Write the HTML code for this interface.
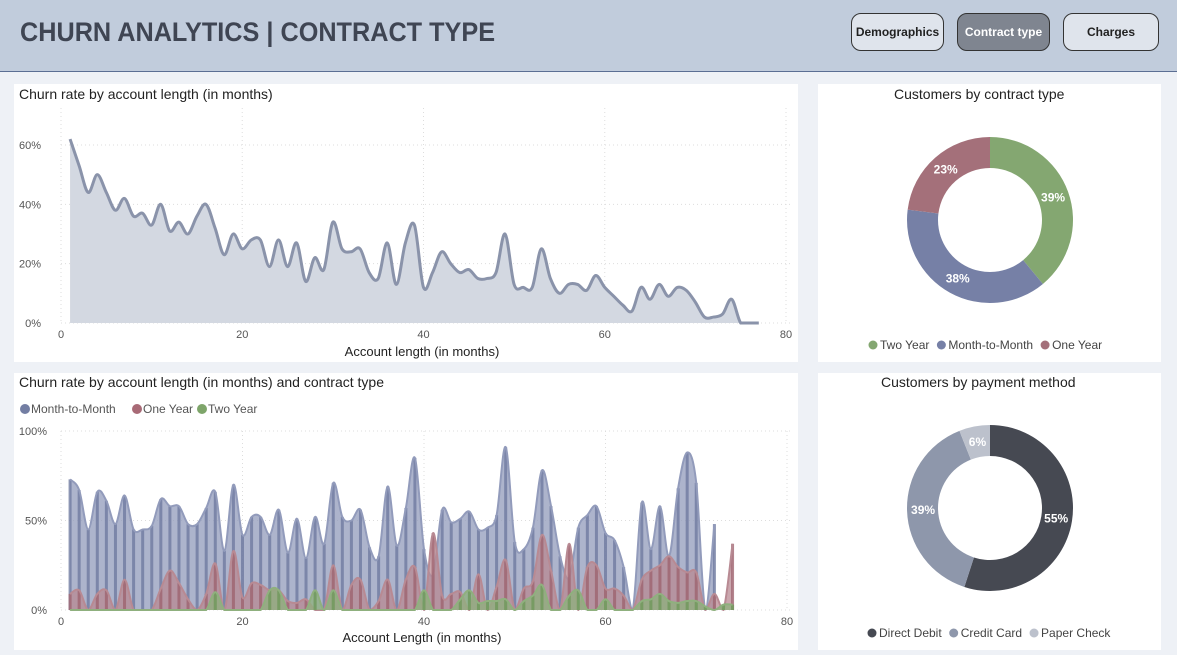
<!DOCTYPE html>
<html><head><meta charset="utf-8"><style>
body{margin:0;width:1177px;height:655px;background:#eef1f6;font-family:"Liberation Sans",sans-serif;position:relative;overflow:hidden}
.hdr{position:absolute;left:0;top:0;width:1177px;height:71px;background:#c1ccdc;border-bottom:1px solid #5b6e93}
.title{position:absolute;left:20px;top:17px;font-size:27px;font-weight:bold;color:#3f4553;transform:scaleX(0.935);transform-origin:left top;white-space:nowrap}
.btn{position:absolute;top:13px;height:38px;width:93px;border:1.5px solid #333;border-radius:10px;background:#dfe4ec;font-size:12px;font-weight:bold;color:#222;display:flex;align-items:center;justify-content:center;box-sizing:border-box}
.panel{position:absolute;background:#fff}
.ptitle{position:absolute;font-size:14px;color:#222;white-space:nowrap}
svg{position:absolute;left:0;top:0}
</style></head><body>
<div class="hdr">
<div class="title">CHURN ANALYTICS | CONTRACT TYPE</div>
<div class="btn" style="left:851px">Demographics</div>
<div class="btn" style="left:957px;background:#7f8590;color:#fff">Contract type</div>
<div class="btn" style="left:1063px;width:96px">Charges</div>
</div>
<div class="panel" style="left:14px;top:84px;width:784px;height:278px"></div>
<div class="panel" style="left:818px;top:84px;width:343px;height:278px"></div>
<div class="panel" style="left:14px;top:373px;width:784px;height:277px"></div>
<div class="panel" style="left:818px;top:373px;width:343px;height:277px"></div>
<div class="ptitle" style="left:19px;top:86px">Churn rate by account length (in months)</div>
<div class="ptitle" style="left:894px;top:86px">Customers by contract type</div>
<div class="ptitle" style="left:19px;top:374px">Churn rate by account length (in months) and contract type</div>
<div class="ptitle" style="left:881px;top:374px">Customers by payment method</div>
<svg id="s" width="1177" height="655" font-family="Liberation Sans, sans-serif"></svg>
<script>
const churnAll=[62,53,44,50,44,38,42,36,37,33,40,31,34,30,36,40,32,23,30,25,28,28,19,28,19,27,14,22,18,34,25,24,25,17,15,27,13,27,33,12,17,24,20,17,18,15,15,17,30,13,12,12,25,15,10,13,13,11,16,12,9,6,4,12,8,13,9,12,11,7,2,2,3,8,0,0,0];
const m2m=[73,67,45,66,61,48,64,45,45,47,62,58,58,48,48,57,66,33,70,42,52,52,42,56,32,51,29,52,37,71,52,50,56,35,30,69,36,57,85,34,20,56,49,51,55,45,46,53,91,38,34,46,78,58,30,18,46,53,58,43,39,24,0,60,34,58,30,68,88,71,0,48];
const oneYear=[9,11,0,9,11,0,17,0,0,0,12,22,15,6,0,9,26,0,33,7,15,14,11,11,5,4,6,0,0,25,0,14,17,0,5,17,0,17,24,0,43,8,9,10,0,20,0,13,28,0,12,16,42,22,0,37,0,24,25,12,12,8,0,17,22,25,30,24,21,21,0,9,0,37];
const twoYear=[0,0,0,0,0,0,0,0,0,0,0,0,0,0,0,0,10,0,0,0,0,0,11,11,0,0,0,11,0,11,0,0,0,0,0,0,0,0,0,11,0,0,0,6,11,4,5,5,6,0,5,8,14,0,0,8,11,0,0,6,0,0,0,5,6,9,5,4,5,5,2,0,3,3];
const xTicks=[0,20,40,60,80];
const yTicks1=[0,20,40,60];
const yTicks3=[0,50,100];
const contractLabels=["Two Year","Month-to-Month","One Year"];
const contractVals=[39,38,23];
const payLabels=["Direct Debit","Credit Card","Paper Check"];
const payVals=[55,39,6];

const S=document.getElementById('s');const NS='http://www.w3.org/2000/svg';
function mk(t,a,p){const e=document.createElementNS(NS,t);for(const k in a)e.setAttribute(k,a[k]);(p||S).appendChild(e);return e;}
function txt(x,y,s,a){const e=mk('text',Object.assign({x:x,y:y},a));e.textContent=s;return e;}
function smooth(pts,base){let d='M'+pts[0][0]+','+pts[0][1];for(let i=0;i<pts.length-1;i++){const p0=pts[i-1]||pts[i],p1=pts[i],p2=pts[i+1],p3=pts[i+2]||p2;const c1=[p1[0]+(p2[0]-p0[0])/6,Math.min(base,p1[1]+(p2[1]-p0[1])/6)],c2=[p2[0]-(p3[0]-p1[0])/6,Math.min(base,p2[1]-(p3[1]-p1[1])/6)];d+='C'+c1+' '+c2+' '+p2;}return d;}
// chart1
const x1=v=>61+v*9.0625, y1=v=>323-v*2.967;
xTicks.forEach(t=>{const g=mk('line',{x1:x1(t),x2:x1(t),y1:108,y2:323,stroke:'#ddd','stroke-dasharray':'1,3'});
const l=txt(x1(t),338,t,{'font-size':11,fill:'#555','text-anchor':'middle'});});
yTicks1.forEach(t=>{mk('line',{x1:61,x2:790,y1:y1(t),y2:y1(t),stroke:'#ddd','stroke-dasharray':'1,3'});const l=txt(41,y1(t)+4,t+'%',{'font-size':11,fill:'#555','text-anchor':'end'});});
const pts1=churnAll.map((v,i)=>[x1(i+1),y1(v)]);const d1=smooth(pts1,y1(0));
const a1=mk('path',{d:d1+'L'+x1(churnAll.length)+','+y1(0)+'L'+x1(1)+','+y1(0)+'Z',fill:'#d3d8e1'});
const l1=mk('path',{d:d1,fill:'none',stroke:'#8a93aa','stroke-width':3});
txt(422,356,'Account length (in months)',{'font-size':13,fill:'#222','text-anchor':'middle'});
// chart3
const x3=v=>61+v*9.075, y3=v=>610-v*1.79;
xTicks.forEach(t=>{mk('line',{x1:x3(t),x2:x3(t),y1:431,y2:610,stroke:'#ddd','stroke-dasharray':'1,3'});txt(x3(t),625,t,{'font-size':11,fill:'#555','text-anchor':'middle'});});
yTicks3.forEach(t=>{mk('line',{x1:61,x2:790,y1:y3(t),y2:y3(t),stroke:'#ddd','stroke-dasharray':'1,3'});txt(47,y3(t)+4,t+'%',{'font-size':11,fill:'#555','text-anchor':'end'});});
function series(vals,fill,line,name){const pts=vals.map((v,i)=>[x3(i+1),y3(v)]);const d=smooth(pts,y3(0));
const g=mk('g',{});
mk('path',{d:d+'L'+x3(vals.length)+','+y3(0)+'L'+x3(1)+','+y3(0)+'Z',fill:fill,'fill-opacity':0.75},g);
vals.forEach((v,i)=>{if(v>0){const b=mk('rect',{x:x3(i+1)-1.5,y:y3(v),width:3,height:v*1.79,fill:line,opacity:0.8},g);}});
mk('path',{d:d,fill:'none',stroke:fill,'stroke-width':2},g);}
series(m2m,'#929bbb','#6f7aa0','month-to-month-series');
series(oneYear,'#b88a93','#a06672','one-year-series');
series(twoYear,'#8fb07e','#6f9a5c','two-year-series');
txt(422,642,'Account Length (in months)',{'font-size':13,fill:'#222','text-anchor':'middle'});
[['Month-to-Month','#737ea3',20],['One Year','#a86a76',132],['Two Year','#7ea56a',197]].forEach(l=>{const c=mk('circle',{cx:l[2]+5,cy:409,r:5,fill:l[1]});txt(l[2]+11,413,l[0],{'font-size':12,fill:'#555'});});
// donuts
function donut(cx,cy,vals,cols,labs,name,lc){let a=-Math.PI/2;const R=83,r=52,tot=vals.reduce((s,v)=>s+v,0);
vals.forEach((v,i)=>{const b=a+v/tot*2*Math.PI,lg=(b-a)>Math.PI?1:0;
const p=mk('path',{d:`M${cx+R*Math.cos(a)},${cy+R*Math.sin(a)}A${R},${R} 0 ${lg} 1 ${cx+R*Math.cos(b)},${cy+R*Math.sin(b)}L${cx+r*Math.cos(b)},${cy+r*Math.sin(b)}A${r},${r} 0 ${lg} 0 ${cx+r*Math.cos(a)},${cy+r*Math.sin(a)}Z`,fill:cols[i]});

const m=(a+b)/2;txt(cx+67*Math.cos(m),cy+67*Math.sin(m)+4,v+'%',{'font-size':12,'font-weight':'bold',fill:'#fff','text-anchor':'middle'});a=b;});
let lx=lc[0];labs.forEach((l,i)=>{mk('circle',{cx:lx+4,cy:lc[1]-4,r:4.5,fill:cols[i]});const t=txt(lx+11,lc[1],l,{'font-size':12,fill:'#444'});lx+=11+t.getComputedTextLength()+8;});}
donut(990,220,contractVals,['#84a771','#7680a6','#a4707a'],contractLabels,'contract',[869,349]);
donut(990,508,payVals,['#464952','#8e97ab','#bcc1cc'],payLabels,'payment',[868,637]);
</script>
</body></html>
